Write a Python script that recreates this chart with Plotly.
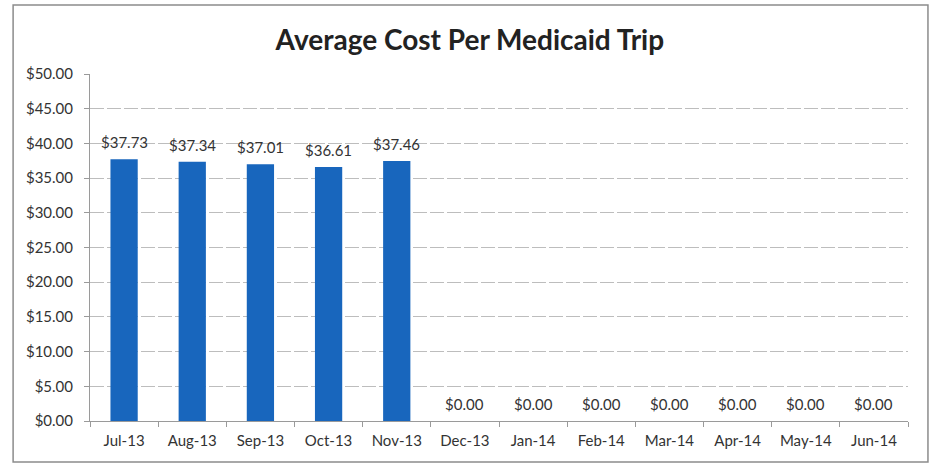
import plotly.graph_objects as go

# Monthly average cost per Medicaid trip, FY 2013-14
months = ["Jul-13", "Aug-13", "Sep-13", "Oct-13", "Nov-13", "Dec-13",
          "Jan-14", "Feb-14", "Mar-14", "Apr-14", "May-14", "Jun-14"]
avg_cost = [37.73, 37.34, 37.01, 36.61, 37.46, 0, 0, 0, 0, 0, 0, 0]
y_ticks = [0, 5, 10, 15, 20, 25, 30, 35, 40, 45, 50]

FONT = "Lato, Open Sans, sans-serif"
TEXT = "#333333"

fig = go.Figure(
    go.Bar(
        x=months,
        y=avg_cost,
        marker=dict(color="#1866bd", line=dict(width=0)),
        hoverinfo="x+y",
    )
)

# value labels sitting just above each bar
for m, v in zip(months, avg_cost):
    fig.add_annotation(
        x=m, y=v, text=f"${v:.2f}", showarrow=False,
        yanchor="bottom", yshift=6,
        font=dict(family=FONT, size=15, color=TEXT),
    )

fig.update_layout(
    width=936,
    height=468,
    margin=dict(l=90, r=28, t=74, b=47),
    paper_bgcolor="white",
    plot_bgcolor="white",
    bargap=0.6,
    showlegend=False,
    title=dict(
        text="<b>Average Cost Per Medicaid Trip</b>",
        x=0.502, xanchor="center",
        y=0.915, yanchor="middle",
        font=dict(family=FONT, size=28, color="#222222"),
    ),
    xaxis=dict(
        type="category",
        showline=True, linecolor="#9a9a9a", linewidth=1,
        ticks="outside", tickson="boundaries", ticklen=5, tickcolor="#9a9a9a",
        ticklabelstandoff=6,
        tickfont=dict(family=FONT, size=15, color=TEXT),
        showgrid=False,
    ),
    yaxis=dict(
        range=[0, 50],
        tickvals=y_ticks,
        ticktext=[f"${v:.2f}" for v in y_ticks],
        tickfont=dict(family=FONT, size=15, color=TEXT),
        ticklabelstandoff=8,
        showline=True, linecolor="#9a9a9a", linewidth=1,
        ticks="outside", ticklen=5, tickcolor="#9a9a9a",
        showgrid=True, gridcolor="#bdbdbd", griddash="14px,3px", gridwidth=1,
        zeroline=False,
    ),
    shapes=[
        dict(type="rect", xref="paper", yref="paper",
             x0=-0.094, x1=1.0244, y0=-0.118, y1=1.199,
             line=dict(color="#8c8c8c", width=1.5), layer="below"),
    ],
)

fig.write_html("out.html")
